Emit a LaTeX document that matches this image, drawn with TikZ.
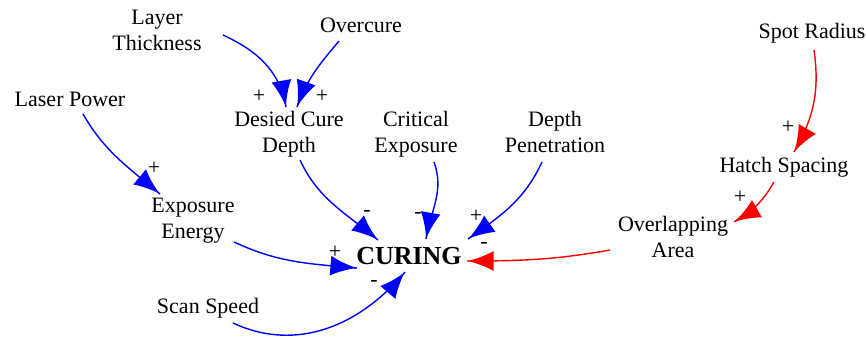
\documentclass[tikz,border=0pt]{standalone}
\usepackage{fontspec}
\setmainfont{Liberation Serif}
\usetikzlibrary{arrows,decorations.markings}

\begin{document}
\begin{tikzpicture}[
    x=0.5pt, y=0.5pt,
    every node/.style={font=\fontsize{11}{13}\selectfont, align=center, inner sep=0pt},
    myarrow/.style={decoration={markings,mark=at position 0.999 with %
    {\arrow[scale=2.7,>=latex]{>}}},postaction={decorate},line width=0.7pt},
    bluearrow/.style={myarrow,blue},
    redarrow/.style={myarrow,red},
    sign/.style={pos=1,text=black}
  ]

    \useasboundingbox (0,0) rectangle (866,345);

    % variables
    \node (lt)  at (157,315) {Layer\\Thickness};
    \node (oc)  at (361,320) {Overcure};
    \node (lp)  at (70,246)  {Laser Power};
    \node (dcd) at (289,211) {Desied Cure\\Depth};
    \node (ce)  at (416,211) {Critical\\Exposure};
    \node (dp)  at (555,213) {Depth\\Penetration};
    \node (sr)  at (812,312) {Spot Radius};
    \node (hs)  at (784,178) {Hatch Spacing};
    \node (ee)  at (193,124) {Exposure\\Energy};
    \node (oa)  at (673,108) {Overlapping\\Area};
    \node (ss)  at (208,37)  {Scan Speed};
    \node[font=\fontsize{13}{15}\selectfont\bfseries] (cur) at (409,89) {CURING};

    % links
    \draw[bluearrow] ([shift={(66,-5)}]lt.center) to[out=-25,in=100]
      node[sign,shift={(-27,11)}] {+} ([shift={(-3,27)}]dcd.center);
    \draw[bluearrow] ([shift={(-22,-16)}]oc.center) to[out=230,in=70]
      node[sign,shift={(25,11)}] {+} ([shift={(8,27)}]dcd.center);
    \draw[bluearrow] ([shift={(13,-15)}]lp.center) to[out=-60,in=140]
      node[sign,shift={(-6,26)}] {+} ([shift={(-33,27)}]ee.center);
    \draw[bluearrow] ([shift={(11,-26)}]dcd.center) to[out=-65,in=140]
      node[sign,shift={(-11,27)}] {-} ([shift={(-31,16)}]cur.center);
    \draw[bluearrow] ([shift={(18,-28)}]ce.center) to[out=-70,in=80]
      node[sign,shift={(-8,24)}] {-} ([shift={(17,17)}]cur.center);
    \draw[bluearrow] ([shift={(-13,-30)}]dp.center) to[out=245,in=35]
      node[sign,shift={(8,23)}] {+} ([shift={(59,17)}]cur.center);
    \draw[bluearrow] ([shift={(41,-21)}]ee.center) to[out=-25,in=175]
      node[sign,shift={(-22,16)}] {+} ([shift={(-52,-12)}]cur.center);
    \draw[bluearrow] ([shift={(25,-15)}]ss.center) to[out=-25,in=230]
      node[sign,shift={(-31,-11)}] {-} ([shift={(-4,-16)}]cur.center);
    \draw[redarrow] ([shift={(-63,-13)}]oa.center) to[out=190,in=0]
      node[sign,shift={(17,16)}] {-} ([shift={(58,-5)}]cur.center);
    \draw[redarrow] ([shift={(2,-17)}]sr.center) to[out=-82,in=60]
      node[sign,shift={(-6,25)}] {+} ([shift={(10,15)}]hs.center);
    \draw[redarrow] ([shift={(-10,-15)}]hs.center) to[out=240,in=30]
      node[sign,shift={(6,25)}] {+} ([shift={(61,15)}]oa.center);

\end{tikzpicture}
\end{document}
